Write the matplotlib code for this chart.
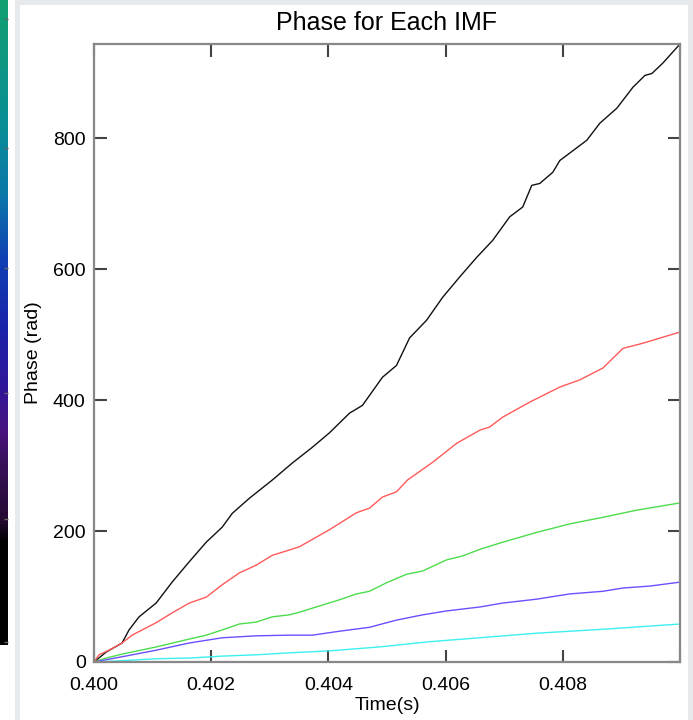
import matplotlib
matplotlib.use("Agg")
import matplotlib.pyplot as plt
import numpy as np
from matplotlib.colors import LinearSegmentedColormap

plt.rcParams['font.family'] = ['Liberation Sans', 'DejaVu Sans']

# ---- data (time in s, phase in rad) ----
t_black = [0.4, 0.400205, 0.400479, 0.400598, 0.400769, 0.40106, 0.401333, 0.401624,
           0.401915, 0.402188, 0.402359, 0.40265, 0.403043, 0.403385, 0.403726, 0.404017,
           0.404359, 0.404581, 0.404923, 0.405162, 0.405385, 0.405675, 0.405949, 0.406239,
           0.40653, 0.406803, 0.407094, 0.407316, 0.40747, 0.407607, 0.407829, 0.407949,
           0.40841, 0.408632, 0.408923, 0.409197, 0.409402, 0.409521, 0.409709, 0.41]
p_black = [0, 15, 29, 49, 69, 90, 122, 153, 183, 206, 227, 250, 278, 304, 328, 350,
           380, 392, 435, 453, 495, 522, 557, 588, 618, 644, 680, 695, 728, 731, 748, 766,
           797, 823, 846, 878, 896, 899, 915, 944]

t_red = [0.4, 0.400085, 0.400256, 0.400479, 0.40065, 0.40106, 0.401333, 0.401624,
         0.401915, 0.402188, 0.402479, 0.402769, 0.403043, 0.403333, 0.403504, 0.404017,
         0.404479, 0.404701, 0.404923, 0.405162, 0.40535, 0.405778, 0.406188, 0.406581,
         0.406752, 0.406974, 0.407436, 0.407949, 0.408291, 0.408684, 0.409026, 0.409368, 0.41]
p_red = [0, 11, 18, 29, 41, 60, 75, 90, 99, 118, 136, 148, 163, 171, 176, 202,
         228, 235, 252, 260, 278, 305, 334, 354, 359, 374, 397, 420, 431, 449, 479, 487, 504]

t_green = [0.4, 0.400205, 0.400479, 0.40106, 0.401624, 0.401915, 0.402188, 0.402479,
           0.402769, 0.403043, 0.403333, 0.403504, 0.403897, 0.404188, 0.404479, 0.404701,
           0.404991, 0.405333, 0.405607, 0.406017, 0.406291, 0.406581, 0.406974, 0.407556,
           0.40812, 0.408684, 0.409265, 0.41]
p_green = [0, 6, 12, 23, 35, 41, 49, 58, 61, 69, 72, 76, 87, 95, 104, 108,
           121, 134, 139, 156, 162, 172, 183, 198, 211, 221, 232, 243]

t_blue = [0.4, 0.400479, 0.40106, 0.401624, 0.402188, 0.402769, 0.403333, 0.403726,
          0.404188, 0.404701, 0.405162, 0.405607, 0.406017, 0.406581, 0.406974, 0.407556,
          0.40812, 0.408684, 0.409026, 0.409487, 0.41]
p_blue = [0, 8, 18, 29, 37, 40, 41, 41, 47, 53, 64, 72, 78, 84, 90, 96,
          104, 108, 113, 116, 122]

t_cyan = [0.4, 0.400479, 0.40106, 0.401624, 0.402188, 0.402769, 0.403333, 0.404017,
          0.404872, 0.405726, 0.406581, 0.407556, 0.408684, 0.41]
p_cyan = [0, 2, 5, 6, 9, 11, 14, 17, 23, 31, 37, 44, 50, 58]

x_ticks = [0.400, 0.402, 0.404, 0.406, 0.408, 0.410]
x_ticklabels = ['0.400', '0.402', '0.404', '0.406', '0.408', '']
y_ticks = [0, 200, 400, 600, 800]
y_ticklabels = ['0', '200', '400', '600', '800']

W, H = 693, 720
fig = plt.figure(figsize=(W / 100, H / 100), dpi=100, facecolor='#e6eaec')


def blank_axes(rect, color, z):
    a = fig.add_axes(rect, zorder=z)
    a.set_facecolor(color)
    a.set_xticks([])
    a.set_yticks([])
    for s in a.spines.values():
        s.set_visible(False)
    return a


# white panels
blank_axes([20 / W, 0, 668 / W, 1 - 5 / H], 'white', -5)
blank_axes([0, 0, 15 / W, 1], 'white', -5)

# partial colour bar at the left edge
cb_stops = [(0.0, '#000000'), (0.16, '#000000'), (0.19, '#240a30'), (0.28, '#38105a'),
            (0.33, '#48127e'), (0.40, '#30169a'), (0.49, '#1a22aa'), (0.60, '#1040b4'),
            (0.70, '#0a78aa'), (0.82, '#0a9094'), (1.0, '#10a070')]
cmap = LinearSegmentedColormap.from_list('strip', cb_stops)
cax = fig.add_axes([0, (H - 645) / H, 8 / W, 645 / H])
grad = np.linspace(0, 1, 256).reshape(-1, 1)
cax.imshow(grad, aspect='auto', cmap=cmap, origin='lower', extent=[0, 1, 0, 1])
cax.set_xlim(0, 1)
cax.set_ylim(0, 1)
cax.set_xticks([])
cax.set_yticks([0.005, 0.195, 0.39, 0.585, 0.77, 0.97])
cax.yaxis.tick_right()
cax.tick_params(axis='y', direction='in', length=3, width=1, color='#666666', labelright=False)
for s in cax.spines.values():
    s.set_visible(False)

# main axes
ax = fig.add_axes([94 / W, (H - 662) / H, 586 / W, 618 / H])
ax.set_facecolor('none')
ax.plot(t_black, p_black, color='#111111', lw=1.0)
ax.plot(t_red, p_red, color='#ff5a5a', lw=1.0)
ax.plot(t_green, p_green, color='#4cdc4c', lw=1.0)
ax.plot(t_blue, p_blue, color='#6a50ff', lw=1.0)
ax.plot(t_cyan, p_cyan, color='#3cf0f0', lw=1.0)

ax.set_xlim(0.400, 0.410)
ax.set_ylim(0, 944)
ax.set_xticks(x_ticks)
ax.set_xticklabels(x_ticklabels)
ax.set_yticks(y_ticks)
ax.set_yticklabels(y_ticklabels)
ax.tick_params(direction='in', length=9, width=1.5, color='#444444',
               top=True, right=True, labelsize=14)
ax.tick_params(axis='x', pad=11)
ax.tick_params(axis='y', pad=6)
for s in ax.spines.values():
    s.set_color('#888888')
    s.set_linewidth(1.6)

ax.set_title('Phase for Each IMF', fontsize=18, pad=10)
ax.set_xlabel('Time(s)', fontsize=14, labelpad=2)
ax.set_ylabel('Phase (rad)', fontsize=14, labelpad=8)

fig.savefig('out.png', dpi=100, facecolor=fig.get_facecolor())
